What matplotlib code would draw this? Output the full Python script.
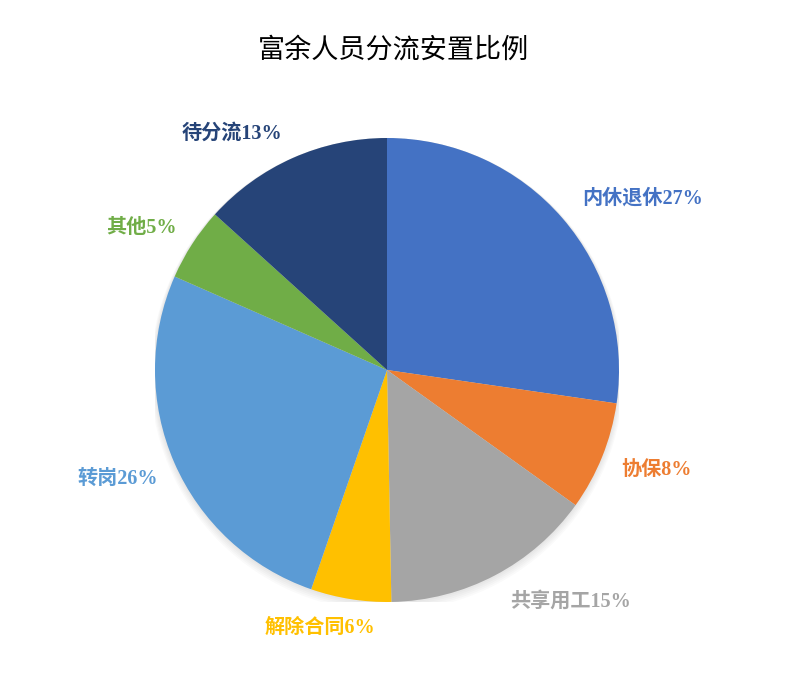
import matplotlib
matplotlib.use("Agg")
import matplotlib.pyplot as plt
from matplotlib.patches import Circle

# data (shares, labels show rounded values)
categories = ['内休退休', '协保', '共享用工', '解除合同', '转岗', '其他', '待分流']
shares = [27.3, 7.6, 14.8, 5.6, 26.3, 5.1, 13.3]
colors = ['#4472C4', '#ED7D31', '#A5A5A5', '#FFC000', '#5B9BD5', '#70AD47', '#264478']
title = '富余人员分流安置比例'

lab_font = ['Liberation Serif', 'Noto Sans CJK SC']

fig = plt.figure(figsize=(7.86, 6.89), dpi=100)
# pie centre ~ (387, 370) px, radius ~ 232 px
cx, cy, r = 387, 370, 232
ax = fig.add_axes([(cx - r) / 786, (689 - cy - r) / 689, 2 * r / 786, 2 * r / 689])

# soft shadow under the pie, spread all round and a bit lower
for i in range(6):
    ax.add_patch(Circle((0, -0.004 * i), 1.0 + 0.004 * i,
                        color='#000000', alpha=0.02, lw=0, zorder=0))

wedges, _ = ax.pie(shares, colors=colors, startangle=90, counterclock=False,
                   radius=1.0, wedgeprops=dict(linewidth=0, zorder=1))
ax.set_xlim(-1, 1)
ax.set_ylim(-1, 1)
ax.set_aspect('equal')
ax.axis('off')

# label centres in pie units (Excel best-fit placement)
label_xy = [(1.10, 0.74), (1.16, -0.43), (0.79, -1.00), (-0.29, -1.11),
            (-1.16, -0.47), (-1.06, 0.61), (-0.67, 1.02)]
for name, val, col, (lx, ly) in zip(categories, shares, colors, label_xy):
    ax.text(lx, ly, f'{name}{round(val)}%', color=col, fontsize=14.5, fontweight='bold',
            family=lab_font, ha='center', va='center', clip_on=False)

fig.text(0.5, 1 - 50 / 689, title, ha='center', va='center', fontsize=19.5,
         family=['Noto Sans CJK SC'], color='black')

fig.savefig('out.png', dpi=100)
